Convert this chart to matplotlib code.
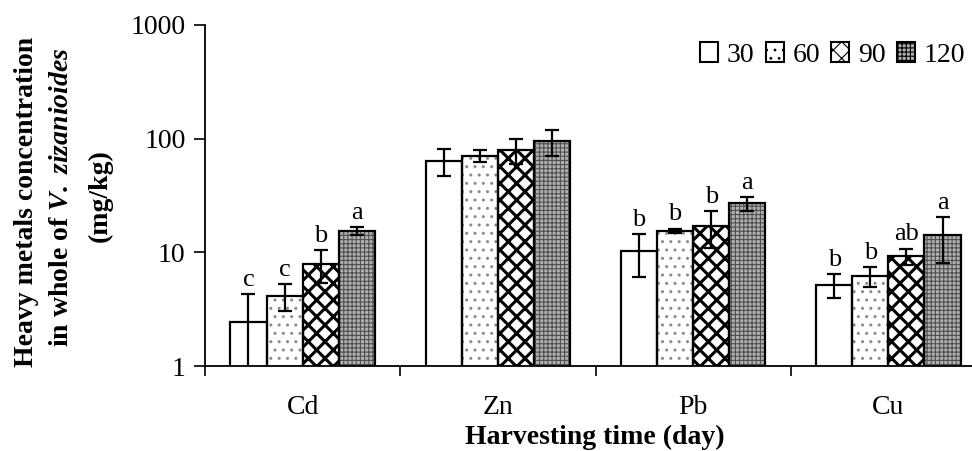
import matplotlib
matplotlib.use("Agg")
import matplotlib.pyplot as plt
import numpy as np
from matplotlib.patches import Patch

plt.rcParams['font.family'] = ['Liberation Serif', 'DejaVu Serif']
plt.rcParams['mathtext.fontset'] = 'custom'
plt.rcParams['mathtext.rm'] = 'Liberation Serif:bold'
plt.rcParams['mathtext.it'] = 'Liberation Serif:italic:bold'
plt.rcParams['mathtext.bf'] = 'Liberation Serif:bold'

metals = ["Cd", "Zn", "Pb", "Cu"]
days = ["30", "60", "90", "120"]
values = {
    "30":  [2.45, 63.5, 10.3, 5.2],
    "60":  [4.15, 70.7, 15.5, 6.2],
    "90":  [7.9, 79.4, 16.9, 9.3],
    "120": [15.4, 95.0, 27.0, 14.2],
}
errors = {
    "30":  [1.85, 17.0, 4.2, 1.2],
    "60":  [1.1, 8.5, 0.7, 1.2],
    "90":  [2.5, 19.0, 6.0, 1.5],
    "120": [1.3, 25.0, 3.7, 6.2],
}
letters = {
    "30":  ["c", "", "b", "b"],
    "60":  ["c", "", "b", "b"],
    "90":  ["b", "", "b", "ab"],
    "120": ["a", "", "a", "a"],
}

styles = {
    "30":  dict(face="white", hatch=None, hcol="black", hlw=1.0),
    "60":  dict(face="white", hatch="..", hcol="#8a8a8a", hlw=1.0),
    "90":  dict(face="white", hatch="xx", hcol="black", hlw=2.2),
    "120": dict(face="#b0b0b0", hatch="++++", hcol="#505050", hlw=0.8),
}

fig = plt.figure(figsize=(9.72, 4.51), dpi=100)
ax = fig.add_axes([205/972, 1-366/451, (986-205)/972, (366-25)/451])

x = np.arange(len(metals))
w = 0.185
for i, d in enumerate(days):
    pos = x + (i - 1.5) * w
    st = styles[d]
    plt.rcParams['hatch.linewidth'] = st["hlw"]
    ax.bar(pos, values[d], width=w, color=st["face"], edgecolor=st["hcol"],
           hatch=st["hatch"], linewidth=0, zorder=2)
    ax.bar(pos, values[d], width=w, fill=False, edgecolor="black",
           linewidth=1.6, zorder=3)
    lo = [min(e, v - 0.5) for v, e in zip(values[d], errors[d])]
    ax.errorbar(pos, values[d], yerr=[lo, errors[d]], fmt="none", ecolor="black",
                elinewidth=1.6, capsize=5, capthick=1.6, zorder=4)
    for p, v, e, t in zip(pos, values[d], errors[d], letters[d]):
        if t:
            ax.text(p, (v + e) * 1.07, t, ha="center", va="bottom", fontsize=19)

ax.set_yscale("log")
ax.set_ylim(1, 1000)
ax.set_xlim(-0.5, 3.5)
ax.set_yticks([1, 10, 100, 1000])
ax.set_yticklabels(["1", "10", "100", "1000"])
ax.yaxis.set_minor_locator(matplotlib.ticker.NullLocator())
ax.set_xticks(x)
ax.set_xticklabels(metals)
ax.set_xticks(np.arange(-0.5, 4.0, 1.0), minor=True)
ax.tick_params(axis="x", which="major", length=0, labelsize=20, pad=21)
ax.tick_params(axis="x", which="minor", length=7, width=1.2, direction="out")
ax.tick_params(axis="y", which="major", length=8, width=1.2, labelsize=20, pad=6)
for s in ["top", "right"]:
    ax.spines[s].set_visible(False)
for s in ["left", "bottom"]:
    ax.spines[s].set_linewidth(1.3)

fig.text(27/972, 1-202/451, "Heavy metals concentration", rotation=90,
         ha="center", va="center", fontsize=20, fontweight="bold")
fig.text(62/972, 1-197/451, r"in whole of $\mathit{V.\ zizanioides}$", rotation=90,
         ha="center", va="center", fontsize=20, fontweight="bold")
fig.text(100/972, 1-196/451, "(mg/kg)", rotation=90,
         ha="center", va="center", fontsize=20, fontweight="bold")
fig.text(595/972, 1/451, "Harvesting time (day)", ha="center", va="bottom",
         fontsize=20, fontweight="bold")

handles = []
for d in days:
    st = styles[d]
    plt.rcParams['hatch.linewidth'] = st["hlw"]
    handles.append(Patch(facecolor=st["face"], edgecolor="black", hatch=st["hatch"],
                         linewidth=1.5, label=d))
leg = fig.legend(handles=handles, loc="center left", bbox_to_anchor=(700/972, 1-55/451),
                 ncol=4, frameon=False, fontsize=20, handlelength=0.65, handleheight=0.7,
                 handletextpad=0.32, columnspacing=0.4, borderaxespad=0, borderpad=0)

fig.savefig("out.png", dpi=100)
